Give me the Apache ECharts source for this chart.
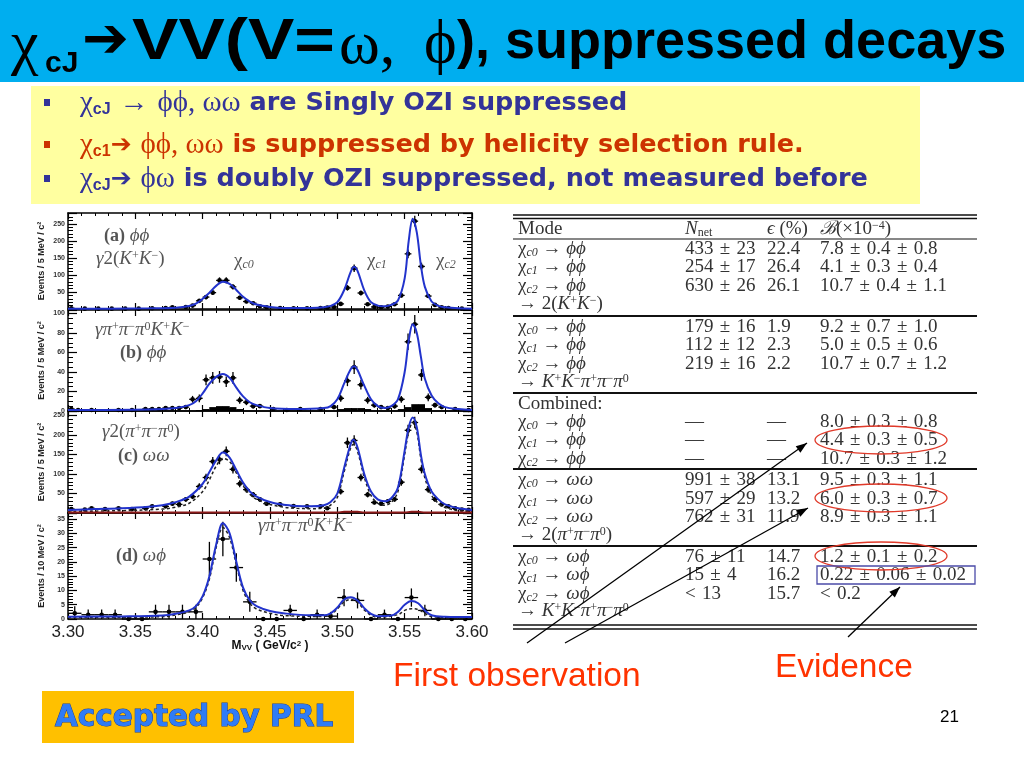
<!DOCTYPE html>
<html><head><meta charset="utf-8">
<script src="https://cdn.jsdelivr.net/npm/echarts@6/dist/echarts.min.js"></script>
<style>html,body{margin:0;padding:0;background:#fff}#c{width:1024px;height:768px}</style>
</head><body><div id="c"></div>
<script>
// ---------------- DATA ----------------
// x range of the invariant-mass axis (GeV/c^2)
const massMin = 3.30, massMax = 3.60, massStep = 0.05;

// Panel (a) phi phi -> 2(K+K-) : [mass, events, error]
const panelA_points = [[3.3025,2,1.5],[3.3125,1,1],[3.3225,1,1],[3.3325,1,1],[3.3425,1,1],[3.3525,1,1],[3.3625,2,1.5],[3.3725,3,2],[3.3775,5,2],[3.3875,6,2.5],[3.3925,10,3],[3.3975,24,5],[3.4025,35,6],[3.4075,48,7],[3.4125,84,9],[3.4175,84,9],[3.4225,65,8],[3.4275,33,6],[3.4325,22,5],[3.4375,17,4],[3.4425,8,3],[3.4475,5,2],[3.4575,3,2],[3.4675,2,1.5],[3.4775,2,1.5],[3.4875,3,2],[3.4925,4,2],[3.4975,6,2.5],[3.5025,15,4],[3.5075,62,8],[3.5125,120,11],[3.5175,47,7],[3.5225,14,4],[3.5275,6,2.5],[3.5325,5,2],[3.5375,7,3],[3.5425,14,4],[3.5475,40,6],[3.5525,162,13],[3.5575,258,16],[3.5625,125,11],[3.5675,38,6],[3.5725,12,3.5],[3.5775,5,2],[3.5825,3,2],[3.5925,1,1]];
const panelA_fit = [[3.30,1],[3.33,1],[3.36,2],[3.38,4],[3.39,9],[3.395,16],[3.40,30],[3.405,48],[3.41,68],[3.415,80],[3.42,74],[3.425,56],[3.43,36],[3.435,22],[3.44,13],[3.45,6],[3.46,3],[3.48,3],[3.49,5],[3.495,9],[3.50,20],[3.505,55],[3.51,110],[3.5125,124],[3.515,112],[3.52,55],[3.525,20],[3.53,10],[3.535,8],[3.54,12],[3.545,25],[3.55,90],[3.553,200],[3.556,265],[3.559,225],[3.562,130],[3.565,65],[3.57,22],[3.575,9],[3.58,5],[3.59,2],[3.60,1]];

// Panel (b) phi phi -> K+K-pi+pi-pi0
const panelB_points = [[3.3025,2,1.5],[3.3075,1,1],[3.3175,1,1],[3.3375,1,1],[3.3475,1,1],[3.3575,2,1.5],[3.3625,2,1.5],[3.3675,2,1.5],[3.3725,3,2],[3.3775,3,2],[3.3825,3,2],[3.3875,4,2],[3.3925,12,3.5],[3.3975,13,4],[3.4025,32,5.5],[3.4075,34,6],[3.4125,35,6],[3.4175,30,5.5],[3.4225,34,6],[3.4275,11,3.5],[3.4325,9,3],[3.4375,5,2.5],[3.4425,5,2],[3.4525,2,1.5],[3.4625,1,1],[3.4725,2,1.5],[3.4875,2,1.5],[3.4975,4,2],[3.5025,13,3.5],[3.5075,31,5.5],[3.5125,45,7],[3.5175,27,5],[3.5225,11,3.5],[3.5275,6,2.5],[3.5325,4,2],[3.5375,3,2],[3.5425,5,2.5],[3.5475,12,3.5],[3.5525,71,8.5],[3.5575,89,9.5],[3.5625,37,6],[3.5675,14,4],[3.5725,6,2.5],[3.5775,4,2],[3.5875,2,1.5],[3.5975,1,1]];
const panelB_bkg = [[3.3975,1],[3.4025,2],[3.4075,4],[3.4125,5],[3.4175,5],[3.4225,4],[3.4275,2],[3.5025,2],[3.5075,3],[3.5125,3],[3.5175,3],[3.5225,2],[3.5475,2],[3.5525,4],[3.5575,7],[3.5625,7],[3.5675,3]];
const panelB_fit = [[3.30,1],[3.36,1.5],[3.38,3],[3.39,6],[3.395,10],[3.40,18],[3.405,28],[3.41,35],[3.415,38],[3.42,34],[3.425,24],[3.43,15],[3.435,9],[3.44,6],[3.45,3],[3.47,2],[3.49,3],[3.495,5],[3.50,12],[3.505,28],[3.51,43],[3.5125,46],[3.515,42],[3.52,26],[3.525,12],[3.53,5],[3.535,3],[3.54,5],[3.545,12],[3.55,40],[3.553,72],[3.556,89],[3.559,80],[3.562,56],[3.565,33],[3.57,16],[3.575,8],[3.58,4],[3.59,2],[3.60,1]];

// Panel (c) omega omega -> 2(pi+pi-pi0)
const panelC_points = [[3.3025,10,3],[3.3125,9,3],[3.3175,12,3.5],[3.3275,10,3],[3.3375,12,3.5],[3.3475,10,3],[3.3575,12,3.5],[3.3625,17,4],[3.3725,17,4],[3.3775,24,5],[3.3825,22,5],[3.3875,35,6],[3.3925,42,6.5],[3.3975,68,8],[3.4025,91,9.5],[3.4075,132,11.5],[3.4125,137,12],[3.4175,158,12.5],[3.4225,112,10.5],[3.4275,75,9],[3.4325,60,8],[3.4375,47,7],[3.4425,35,6],[3.4475,24,5],[3.4575,22,5],[3.4675,18,4],[3.4775,17,4],[3.4875,17,4],[3.4925,12,3.5],[3.5025,55,7.5],[3.5075,180,13.5],[3.5125,186,13.5],[3.5175,91,9.5],[3.5225,47,7],[3.5275,27,5],[3.5325,24,5],[3.5375,30,5.5],[3.5425,35,6],[3.5475,79,9],[3.5525,212,14.5],[3.5575,232,15],[3.5625,112,10.5],[3.5675,60,8],[3.5725,35,6],[3.5775,22,5],[3.5825,17,4],[3.5875,12,3.5],[3.5925,9,3],[3.5975,8,3]];
const panelC_fit = [[3.30,8],[3.32,10],[3.34,12],[3.36,16],[3.37,20],[3.38,28],[3.39,42],[3.40,75],[3.405,105],[3.41,135],[3.415,155],[3.42,142],[3.425,110],[3.43,78],[3.435,55],[3.44,42],[3.45,28],[3.46,21],[3.47,18],[3.48,17],[3.49,20],[3.495,28],[3.50,50],[3.505,115],[3.51,178],[3.512,188],[3.515,168],[3.52,100],[3.525,55],[3.53,35],[3.535,30],[3.54,38],[3.545,65],[3.55,160],[3.553,220],[3.556,245],[3.559,220],[3.562,150],[3.565,100],[3.57,55],[3.575,35],[3.58,22],[3.59,12],[3.60,8]];
const panelC_dash = [[3.30,4],[3.34,6],[3.37,10],[3.38,15],[3.39,25],[3.40,55],[3.405,85],[3.41,120],[3.415,140],[3.42,132],[3.425,103],[3.43,70],[3.435,48],[3.44,35],[3.45,22],[3.46,15],[3.47,12],[3.48,11],[3.49,13],[3.495,20],[3.50,40],[3.505,105],[3.51,168],[3.512,176],[3.515,158],[3.52,92],[3.525,45],[3.53,25],[3.535,20],[3.54,27],[3.545,55],[3.55,150],[3.553,208],[3.556,232],[3.559,208],[3.562,140],[3.565,90],[3.57,45],[3.575,25],[3.58,14],[3.59,6],[3.60,4]];
const panelC_bkg = [[3.30,1.5],[3.50,1.5],[3.505,3],[3.515,3],[3.52,1.5],[3.55,1.5],[3.555,3],[3.56,3],[3.565,1.5],[3.60,1.5]];

// Panel (d) omega phi -> K+K-pi+pi-pi0  (10 MeV bins)
const panelD_points = [[3.305,2,2.5],[3.315,1.5,1.8],[3.325,1.5,1.8],[3.335,1.5,1.8],[3.345,0,0.6],[3.355,0,0.6],[3.365,2.5,2.5],[3.375,2.5,2.5],[3.385,2.5,2.5],[3.395,2.5,2.5],[3.405,21,6],[3.415,28,6],[3.425,18,5],[3.435,6,3.5],[3.445,0,0.6],[3.455,0,0.6],[3.465,3,2],[3.475,0,0.6],[3.485,1.5,1.8],[3.495,1,1.5],[3.505,7.5,3],[3.515,6.5,2.8],[3.525,0,0.6],[3.535,1.5,1.8],[3.545,0,0.6],[3.555,7.5,3.2],[3.565,3,2],[3.575,0,0.6],[3.585,0,0.6],[3.595,0,0.6]];
const panelD_fit = [[3.30,0.8],[3.34,0.9],[3.37,1.2],[3.38,1.8],[3.39,3],[3.395,4.5],[3.40,8],[3.405,15],[3.41,26],[3.415,33.5],[3.42,30],[3.425,20],[3.43,11],[3.435,6.5],[3.44,4.5],[3.45,2.8],[3.46,2],[3.48,1.3],[3.49,1.3],[3.495,2],[3.50,4],[3.505,6.8],[3.51,7.6],[3.515,6.5],[3.52,3.8],[3.525,1.8],[3.53,1],[3.54,1.2],[3.545,2.5],[3.55,5],[3.555,6.3],[3.56,5.5],[3.565,3],[3.57,1.3],[3.58,0.8],[3.60,0.7]];
const panelD_dash = [[3.30,0.5],[3.37,0.8],[3.38,1.4],[3.39,2.5],[3.395,4],[3.40,7.5],[3.405,14],[3.41,25],[3.415,32],[3.42,28.5],[3.425,19],[3.43,10],[3.435,5.5],[3.44,3.5],[3.45,2],[3.46,1.2],[3.49,0.9],[3.495,1.5],[3.50,3.5],[3.505,6],[3.51,6.8],[3.515,5.8],[3.52,3.2],[3.525,1.3],[3.53,0.6],[3.545,1.5],[3.55,3],[3.555,3.6],[3.56,3.3],[3.565,2],[3.57,0.8],[3.60,0.4]];

// Table of results (mode: [chi subscript, final state]; rows without subscript are labels)
const tableModes = [
  ['c0','ϕϕ'],['c1','ϕϕ'],['c2','ϕϕ'],['','→ 2(K+K−)'],
  ['c0','ϕϕ'],['c1','ϕϕ'],['c2','ϕϕ'],['','→ K+K−π+π−π0'],
  ['','Combined:'],['c0','ϕϕ'],['c1','ϕϕ'],['c2','ϕϕ'],
  ['c0','ωω'],['c1','ωω'],['c2','ωω'],['','→ 2(π+π−π0)'],
  ['c0','ωϕ'],['c1','ωϕ'],['c2','ωϕ'],['','→ K+K−π+π−π0']
];
const tableNnet = ['433 ± 23','254 ± 17','630 ± 26','', '179 ± 16','112 ± 12','219 ± 16','', '','—','—','—', '991 ± 38','597 ± 29','762 ± 31','', '76 ± 11','15 ± 4','< 13',''];
const tableEff  = ['22.4','26.4','26.1','', '1.9','2.3','2.2','', '','—','—','—', '13.1','13.2','11.9','', '14.7','16.2','15.7',''];
const tableBr   = ['7.8 ± 0.4 ± 0.8','4.1 ± 0.3 ± 0.4','10.7 ± 0.4 ± 1.1','', '9.2 ± 0.7 ± 1.0','5.0 ± 0.5 ± 0.6','10.7 ± 0.7 ± 1.2','', '','8.0 ± 0.3 ± 0.8','4.4 ± 0.3 ± 0.5','10.7 ± 0.3 ± 1.2', '9.5 ± 0.3 ± 1.1','6.0 ± 0.3 ± 0.7','8.9 ± 0.3 ± 1.1','', '1.2 ± 0.1 ± 0.2','0.22 ± 0.06 ± 0.02','< 0.2',''];

// ---------------- LAYOUT ----------------
const PL = 68, PW = 404;
const grids = [
  {top:213, height:96, max:282, interval:50, minor:5, name:'Events / 5 MeV / c²', showMin:false},
  {top:310, height:101, max:103.6, interval:20, minor:4, name:'Events / 5 MeV / c²', showMin:true},
  {top:411, height:102, max:261.5, interval:50, minor:5, name:'Events / 5 MeV / c²', showMin:false},
  {top:513, height:106, max:37.1, interval:5, minor:5, name:'Events / 10 MeV / c²', showMin:true}
];
const xAxes = [], yAxes = [], gridOpts = [];
grids.forEach((g, i) => {
  gridOpts.push({left:PL, width:PW, top:g.top, height:g.height, containLabel:false});
  const axLine = {show:true, onZero:false, lineStyle:{color:'#000', width:1.5}};
  const xBase = {type:'value', gridIndex:i, min:massMin, max:massMax, interval:massStep,
    axisLine:axLine, splitLine:{show:false},
    axisTick:{inside:true, length:6, lineStyle:{color:'#000', width:1.2}},
    minorTick:{show:true, splitNumber:5, length:3, lineStyle:{color:'#000', width:1}}};
  xAxes.push(Object.assign({}, xBase, {position:'bottom',
    axisLabel:{show:i===3, margin:5, fontSize:17, fontFamily:'Liberation Sans', color:'#222',
      formatter:v=>v.toFixed(2)}}));
  xAxes.push(Object.assign({}, xBase, {position:'top', axisLabel:{show:false}}));
  const yBase = {type:'value', gridIndex:i, min:0, max:g.max, interval:g.interval,
    axisLine:axLine, splitLine:{show:false},
    axisTick:{inside:true, length:9, lineStyle:{color:'#000', width:1.2}},
    minorTick:{show:true, splitNumber:g.minor, length:5, lineStyle:{color:'#000', width:1}}};
  yAxes.push(Object.assign({}, yBase, {position:'left',
    name:g.name, nameLocation:'middle', nameGap:22, nameRotate:90,
    nameTextStyle:{fontSize:9, fontWeight:'bold', fontFamily:'Liberation Sans', color:'#222'},
    axisLabel:{show:true, fontSize:7, fontWeight:'bold', color:'#333', margin:3,
      showMinLabel:g.showMin, showMaxLabel:false}}));
  yAxes.push(Object.assign({}, yBase, {position:'right', axisLabel:{show:false}}));
});

function errRender(hw){
  return function(params, api){
    const x = api.value(0), y = api.value(1), e = api.value(2);
    const c = api.coord([x, y]);
    const lo = api.coord([x, Math.max(0, y - e)]);
    const hi = api.coord([x, y + e]);
    const l = api.coord([x - hw, y]);
    const r = api.coord([x + hw, y]);
    return {type:'group', children:[
      {type:'line', shape:{x1:lo[0], y1:lo[1], x2:hi[0], y2:hi[1]}, style:{stroke:'#000', lineWidth:1.3}},
      {type:'line', shape:{x1:l[0], y1:l[1], x2:r[0], y2:r[1]}, style:{stroke:'#000', lineWidth:1.3}},
      {type:'circle', shape:{cx:c[0], cy:c[1], r:2.3}, style:{fill:'#000'}}
    ]};
  };
}
function pts(i, data, hw){
  return {type:'custom', xAxisIndex:i*2, yAxisIndex:i*2, data:data, renderItem:errRender(hw),
    encode:{x:0, y:1}, z:2, silent:true};
}
function fit(i, data, color, dashed, width){
  return {type:'line', xAxisIndex:i*2, yAxisIndex:i*2, data:data, smooth:0.35, symbol:'none',
    lineStyle:{color:color, width:width || 2, type: dashed ? [3,2.5] : 'solid'}, z: dashed ? 3 : 4, silent:true};
}
const BLUE = '#2233cc';
const series = [
  pts(0, panelA_points, 0.0025), fit(0, panelA_fit, BLUE),
  {type:'bar', xAxisIndex:2, yAxisIndex:2, data:panelB_bkg, barWidth:7, itemStyle:{color:'#000'}, z:1, silent:true},
  pts(1, panelB_points, 0.0025), fit(1, panelB_fit, BLUE),
  fit(2, panelC_bkg, '#8b1a1a', false, 2),
  pts(2, panelC_points, 0.0025), fit(2, panelC_dash, '#222', true, 1.5), fit(2, panelC_fit, BLUE),
  pts(3, panelD_points, 0.005), fit(3, panelD_dash, '#222', true, 1.5), fit(3, panelD_fit, BLUE)
];

// ---------------- GRAPHICS (slide text) ----------------
const G = [];
function txt(x, y, text, style, extra){
  G.push(Object.assign({type:'text', x:x, y:y, z:10, silent:true,
    style:Object.assign({text:text, textVerticalAlign:'middle'}, style)}, extra || {}));
}
// title bar
G.push({type:'rect', shape:{x:0, y:0, width:1024, height:82}, style:{fill:'#00AEEF'}, z:1});
txt(11, 47, 'χ', {fill:'#000', fontSize:62, fontFamily:'Liberation Serif'});
txt(45, 64, 'cJ', {fill:'#000', fontSize:30, fontWeight:'bold', fontFamily:'Liberation Sans'});
txt(82, 42, '➔', {fill:'#000', fontSize:56, fontWeight:'bold', fontFamily:'DejaVu Sans'});
txt(132, 43, 'VV(V=', {fill:'#000', fontSize:57, fontWeight:'bold', fontFamily:'Liberation Sans'}, {scaleX:1.22});
txt(339, 47, 'ω,', {fill:'#000', fontSize:62, fontFamily:'Liberation Serif'});
txt(424, 46, 'ϕ', {fill:'#000', fontSize:62, fontFamily:'Liberation Serif'});
txt(457, 43, '), suppressed decays', {fill:'#000', fontSize:54, fontWeight:'bold', fontFamily:'Liberation Sans'});

// yellow box
G.push({type:'rect', shape:{x:31, y:86, width:889, height:118}, style:{fill:'#FFFFA0'}, z:1});
const BFONT = '"Comic Sans MS", "DejaVu Sans"';
const bullets = [
  {y:103, color:'#333399', text:'{g|χ}{s|cJ} {g|→} {g|ϕϕ, ωω} are Singly OZI suppressed'},
  {y:145, color:'#CC3300', text:'{g|χ}{s|c1}{a|➔} {g|ϕϕ, ωω} is suppressed by helicity selection rule.'},
  {y:179, color:'#333399', text:'{g|χ}{s|cJ}{a|➔} {g|ϕω} is doubly OZI suppressed, not measured before'}
];
bullets.forEach(b => {
  G.push({type:'rect', shape:{x:44, y:b.y - 4, width:6, height:7}, style:{fill:b.color}, z:5});
  txt(80, b.y, b.text, {fill:b.color, fontSize:25.5, fontWeight:'bold', fontFamily:BFONT, rich:{
    g:{fontSize:29, fontFamily:'Liberation Serif', fill:b.color},
    s:{fontSize:16, fontWeight:'bold', fontFamily:'Liberation Sans', fill:b.color, verticalAlign:'bottom'},
    a:{fontSize:25, fontWeight:'bold', fontFamily:'DejaVu Sans', fill:b.color}
  }});
});

// panel annotations
const PC = '#555';
const panelRich = {
  p:{fontSize:18, fontWeight:'bold', fontFamily:'Liberation Serif', fill:PC},
  i:{fontSize:19, fontStyle:'italic', fontFamily:'Liberation Serif', fill:PC},
  n:{fontSize:19, fontFamily:'Liberation Serif', fill:PC},
  ni:{fontSize:19, fontStyle:'italic', fontFamily:'Liberation Serif', fill:PC},
  s:{fontSize:12, fontFamily:'Liberation Serif', fontStyle:'italic', fill:PC, verticalAlign:'bottom'},
  u:{fontSize:12, fontFamily:'Liberation Serif', fill:PC, verticalAlign:'top'}
};
const ptxt = (x, y, t) => txt(x, y, t, {fill:PC, fontSize:19, fontFamily:'Liberation Serif', rich:panelRich});
ptxt(104, 236, '{p|(a)} {i|ϕϕ}');
ptxt(96, 259, '{ni|γ}{n|2(}{ni|K}{u|+}{ni|K}{u|−}{n|)}');
ptxt(234, 261, '{n|χ}{s|c0}');
ptxt(367, 261, '{n|χ}{s|c1}');
ptxt(436, 261, '{n|χ}{s|c2}');
ptxt(95, 330, '{ni|γπ}{u|+}{ni|π}{u|−}{ni|π}{u|0}{ni|K}{u|+}{ni|K}{u|−}');
ptxt(120, 353, '{p|(b)} {i|ϕϕ}');
ptxt(102, 432, '{ni|γ}{n|2(}{ni|π}{u|+}{ni|π}{u|−}{ni|π}{u|0}{n|)}');
ptxt(118, 456, '{p|(c)} {i|ωω}');
ptxt(116, 556, '{p|(d)} {i|ωϕ}');
ptxt(258, 526, '{ni|γπ}{u|+}{ni|π}{u|−}{ni|π}{u|0}{ni|K}{u|+}{ni|K}{u|−}');
// x-axis title
txt(270, 646, '{b|M}{s|VV}{b| ( GeV/c}{u|2}{b| )}', {textAlign:'center', fill:'#111', rich:{
  b:{fontSize:12, fontWeight:'bold', fontFamily:'Liberation Sans', fill:'#111'},
  s:{fontSize:8, fontWeight:'bold', fontFamily:'Liberation Sans', fill:'#111', verticalAlign:'bottom'},
  u:{fontSize:8, fontWeight:'bold', fontFamily:'Liberation Sans', fill:'#111', verticalAlign:'top'}
}});

// table
const TCOL = '#333';
const TF = 19;
const tRich = {
  n:{fontSize:TF, fontFamily:'Liberation Serif', fill:TCOL},
  i:{fontSize:TF, fontStyle:'italic', fontFamily:'Liberation Serif', fill:TCOL},
  s:{fontSize:12, fontStyle:'italic', fontFamily:'Liberation Serif', fill:TCOL, verticalAlign:'bottom'},
  r:{fontSize:12, fontFamily:'Liberation Serif', fill:TCOL, verticalAlign:'bottom'},
  u:{fontSize:12, fontFamily:'Liberation Serif', fill:TCOL, verticalAlign:'top'}
};
const ttxt = (x, y, t) => txt(x, y, t, {fill:TCOL, fontSize:TF, fontFamily:'Liberation Serif', rich:tRich});
const sp = s => s.replace(/ ± /g, '\u2004±\u2004').replace(/< /g, '<\u2004');
// turn "K+K−π0" style label into rich text with italic letters and raised charges
function richLabel(s){
  if (s === 'Combined:') return '{n|Combined:}';
  let out = '';
  for (const ch of s){
    if (ch === '+' || ch === '−' || ch === '0' && out.endsWith('π}')) out += '{u|' + ch + '}';
    else if (ch === 'K' || ch === 'π') out += '{i|' + ch + '}';
    else out += '{n|' + ch + '}';
  }
  return out;
}
const COLX = [518, 685, 767, 820];
const rowY = [249,267,286,304, 327,345,364,382, 404,422,440,459, 480,499,517,535, 557,575,594,611];
ttxt(COLX[0], 229, '{n|Mode}');
ttxt(COLX[1], 229, '{i|N}{r|net}');
ttxt(COLX[2], 229, '{i|ϵ}{n| (%)}');
ttxt(COLX[3], 229, '{i|ℬ}{n|(×10}{u|−4}{n|)}');
rowY.forEach((y, k) => {
  const m = tableModes[k];
  if (m[0]) ttxt(COLX[0], y, '{n|χ}{s|' + m[0] + '}{n| → }{i|' + m[1] + '}');
  else ttxt(COLX[0], y, richLabel(m[1]));
  if (tableNnet[k]) ttxt(COLX[1], y, '{n|' + sp(tableNnet[k]) + '}');
  if (tableEff[k]) ttxt(COLX[2], y, '{n|' + tableEff[k] + '}');
  if (tableBr[k]) ttxt(COLX[3], y, '{n|' + sp(tableBr[k]) + '}');
});
function hline(y, w){ G.push({type:'line', shape:{x1:513, y1:y, x2:977, y2:y}, style:{stroke:'#111', lineWidth:w}, z:9}); }
hline(215, 1.6); hline(218.5, 1.6); hline(239, 1.2); hline(316, 2); hline(393, 2); hline(469, 2); hline(546, 2); hline(625, 1.6); hline(629, 1.6);

// highlight marks
[[881,440],[881,498],[881,556]].forEach(c => G.push({type:'ellipse', shape:{cx:c[0], cy:c[1], rx:66, ry:14},
  style:{fill:null, stroke:'#E03A2A', lineWidth:1.3}, z:11}));
G.push({type:'rect', shape:{x:817, y:566, width:158, height:18}, style:{fill:null, stroke:'#4B4BA8', lineWidth:1.3}, z:11});
function arrow(x1, y1, x2, y2){
  G.push({type:'line', shape:{x1:x1, y1:y1, x2:x2, y2:y2}, style:{stroke:'#000', lineWidth:1.3}, z:12});
  const a = Math.atan2(y2 - y1, x2 - x1), L = 11, W = 4;
  const bx = x2 - L * Math.cos(a), by = y2 - L * Math.sin(a);
  G.push({type:'polygon', shape:{points:[[x2, y2], [bx + W * Math.sin(a), by - W * Math.cos(a)], [bx - W * Math.sin(a), by + W * Math.cos(a)]]},
    style:{fill:'#000'}, z:12});
}
arrow(527, 643, 807, 443);
arrow(565, 643, 808, 508);
arrow(848, 637, 900, 587);

txt(393, 677, 'First observation', {fill:'#FF3300', fontSize:33.5, fontFamily:'Liberation Sans'});
txt(775, 668, 'Evidence', {fill:'#FF3300', fontSize:33.5, fontFamily:'Liberation Sans'});
G.push({type:'rect', shape:{x:42, y:691, width:312, height:52}, style:{fill:'#FFC000'}, z:1});
txt(55, 718, 'Accepted by PRL', {fill:'#2F7CF6', stroke:'#1d3f9a', lineWidth:1, fontSize:29.5, fontWeight:'bold', fontFamily:BFONT});
txt(940, 717, '21', {fill:'#000', fontSize:17, fontFamily:'Liberation Sans'});

// ---------------- CHART ----------------
const chart = echarts.init(document.getElementById('c'));
chart.setOption({
  animation:false,
  backgroundColor:'#fff',
  grid:gridOpts, xAxis:xAxes, yAxis:yAxes, series:series,
  graphic:G
});
</script></body></html>
